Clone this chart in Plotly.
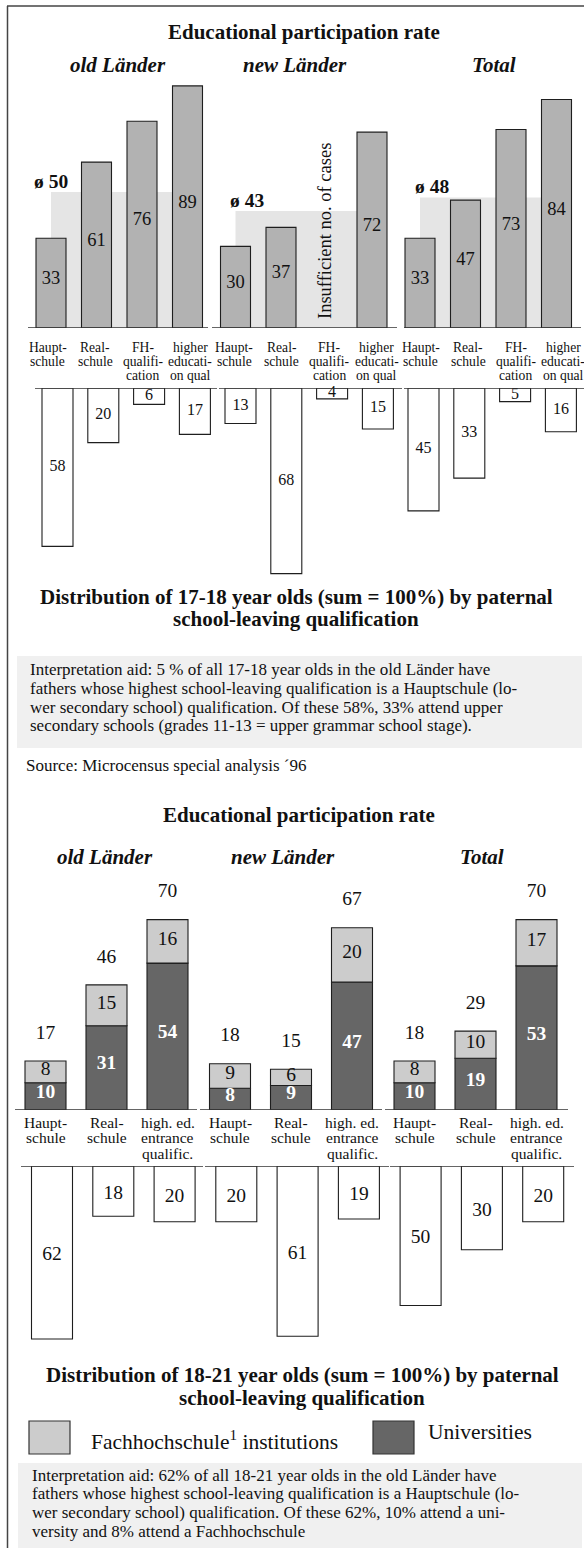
import plotly.graph_objects as go

W, H = 584, 1548
SERIF = "Liberation Serif, Times New Roman, Times, serif"

# ---------------- data: 17-18 year olds ----------------
regions = ["old Länder", "new Länder", "Total"]
quals1 = ["Haupt-|schule", "Real-|schule", "FH-|qualifi-|cation", "higher|educati-|on qual"]
rate1_old = [33, 61, 76, 89]
rate1_new = [30, 37, None, 72]
rate1_total = [33, 47, 73, 84]
mean1 = [50, 43, 48]
dist1_old = [58, 20, 6, 17]
dist1_new = [13, 68, 4, 15]
dist1_total = [45, 33, 5, 16]
note1 = "Insufficient no. of cases"

# ---------------- data: 18-21 year olds ----------------
quals2 = ["Haupt-|schule", "Real-|schule", "high. ed.|entrance|qualific."]
uni2_old = [10, 31, 54]
uni2_new = [8, 9, 47]
uni2_total = [10, 19, 53]
fh2_old = [8, 15, 16]
fh2_new = [9, 6, 20]
fh2_total = [8, 10, 17]
tot2_old = [17, 46, 70]
tot2_new = [18, 15, 67]
tot2_total = [18, 29, 70]
dist2_old = [62, 18, 20]
dist2_new = [20, 61, 19]
dist2_total = [50, 30, 20]

legend_names = ["Fachhochschule<sup>1</sup> institutions", "Universities"]

title1 = "Educational participation rate"
dtitle1 = ["Distribution of 17-18 year olds (sum = 100%) by paternal", "school-leaving qualification"]
dtitle2 = ["Distribution of 18-21 year olds (sum = 100%) by paternal", "school-leaving qualification"]
interp1 = [
    "Interpretation aid: 5 % of all 17-18 year olds in the old Länder have",
    "fathers whose highest school-leaving qualification is a Hauptschule (lo-",
    "wer secondary school) qualification. Of these 58%, 33% attend upper",
    "secondary schools (grades 11-13 = upper grammar school stage).",
]
source = "Source: Microcensus special analysis ´96"
interp2 = [
    "Interpretation aid: 62% of all 18-21 year olds in the old Länder have",
    "fathers whose highest school-leaving qualification is a Hauptschule (lo-",
    "wer secondary school) qualification. Of these 62%, 10% attend a uni-",
    "versity and 8% attend a Fachhochschule",
]

rate1 = [rate1_old, rate1_new, rate1_total]
dist1 = [dist1_old, dist1_new, dist1_total]
uni2 = [uni2_old, uni2_new, uni2_total]
fh2 = [fh2_old, fh2_new, fh2_total]
tot2 = [tot2_old, tot2_new, tot2_total]
dist2 = [dist2_old, dist2_new, dist2_total]

# ---------------- layout geometry (pixels) ----------------
def xpos(g, c, x0, gstep, cstep):
    return x0 + g * gstep + c * cstep

XU1 = (51, 184.5, 45.5)
XD1 = (57.5, 183, 45.8)
XL1 = (47.5, 186.5, 47.5)
XU2 = (45.5, 184.5, 61)
XD2 = (52, 184.3, 61.3)

def py(p):
    return 1 - p / H

def px(p):
    return p / W

SC_U1, SC_D1, SC_U2, SC_D2 = 2.72, 2.73, 2.72, 2.79
BASE_U1, BASE_D1, BASE_U2, BASE_D2 = 328, 388, 1110, 1166

fig = go.Figure()

def bar(x, y, yaxis, width, color, base=None, lw=1.1):
    fig.add_trace(go.Bar(
        x=x, y=y, base=base, width=width, yaxis=yaxis, xaxis="x",
        marker=dict(color=color, line=dict(color="#1e1e1e", width=lw)),
        hoverinfo="skip", showlegend=False))

def txt(x, y, t, yaxis, size, color="#111", bold=False):
    fig.add_trace(go.Scatter(
        x=x, y=y, text=[("<b>%s</b>" % s) if bold else s for s in t], mode="text",
        yaxis=yaxis, xaxis="x", textposition="middle center", cliponaxis=False,
        textfont=dict(family=SERIF, size=size, color=color),
        hoverinfo="skip", showlegend=False))

# ---- chart 1: mean background rectangles
mx, mw = [], []
for g in range(3):
    a = xpos(g, 0, *XU1)
    b = xpos(g, 3, *XU1)
    mx.append((a + b) / 2)
    mw.append(b - a)
bar(mx, mean1, "y", mw, "#e5e5e5", lw=0)

# ---- chart 1: participation bars
bx, by = [], []
for g in range(3):
    for c, v in enumerate(rate1[g]):
        if v is not None:
            bx.append(xpos(g, c, *XU1))
            by.append(v)
bar(bx, by, "y", 30, "#b2b2b2")
txt(bx, [v / 2 + 1.4 for v in by], [str(v) for v in by], "y", 18.5)

# ---- chart 1: distribution bars (downwards)
dx, dy = [], []
for g in range(3):
    for c, v in enumerate(dist1[g]):
        dx.append(xpos(g, c, *XD1))
        dy.append(v)
bar(dx, dy, "y2", 31, "#ffffff")
txt(dx, [v / 2 for v in dy], [str(v) for v in dy], "y2", 16)

# ---- chart 2: stacked bars
sx, su, sf, st = [], [], [], []
for g in range(3):
    for c in range(3):
        sx.append(xpos(g, c, *XU2))
        su.append(uni2[g][c])
        sf.append(fh2[g][c])
        st.append(tot2[g][c])
bar(sx, su, "y3", 41, "#666666")
bar(sx, sf, "y3", 41, "#cccccc", base=su)
txt(sx, [u / 2 + 1.2 for u in su], [str(u) for u in su], "y3", 19.5, color="#ffffff", bold=True)
txt(sx, [u + f / 2 + 0.6 for u, f in zip(su, sf)], [str(f) for f in sf], "y3", 19.5)
txt(sx, [u + f + 10 for u, f in zip(su, sf)], [str(t) for t in st], "y3", 19.5)

# ---- chart 2: distribution bars
ex, ey = [], []
for g in range(3):
    for c, v in enumerate(dist2[g]):
        ex.append(xpos(g, c, *XD2))
        ey.append(v)
bar(ex, ey, "y4", 41, "#ffffff")
txt(ex, [v / 2 + 1 for v in ey], [str(v) for v in ey], "y4", 19.5)

# ---------------- annotations ----------------
ann = []

def A(text, x, y, size, anchor="center", bold=False, italic=False, angle=0, color="#111"):
    if italic:
        text = "<i>%s</i>" % text
    if bold:
        text = "<b>%s</b>" % text
    ann.append(dict(text=text, x=px(x), y=py(y), xref="paper", yref="paper",
                    xanchor=anchor, yanchor="middle", showarrow=False, textangle=angle,
                    font=dict(family=SERIF, size=size, color=color)))

# chart 1 titles
A(title1, 304, 32, 21, bold=True)
for g, cx in enumerate([118, 295, 494]):
    A(regions[g], cx, 65, 21, bold=True, italic=True)
# mean labels
moff = [-19, -8, -7]
for g in range(3):
    ann.append(dict(text="<b>ø %d</b>" % mean1[g], x=mx[g] - mw[g] / 2 + moff[g], y=mean1[g],
                    xref="x", yref="y", xanchor="left", yanchor="middle", yshift=11,
                    showarrow=False, font=dict(family=SERIF, size=19.5, color="#111")))
# insufficient cases note
A(note1, 325, 231, 18.5, angle=-90)
# category labels chart 1
for g in range(3):
    for c, lab in enumerate(quals1):
        for k, line in enumerate(lab.split("|")):
            A(line, xpos(g, c, *XL1), 348 + k * 13.6, 13.6)
# distribution title 1
A(dtitle1[0], 296, 597, 21, bold=True)
A(dtitle1[1], 296, 619, 21, bold=True)
for k, line in enumerate(interp1):
    A(line, 28, 669 + k * 19, 17, anchor="left")
A(source, 24, 765, 17, anchor="left")

# chart 2 titles
A(title1, 299, 815, 21, bold=True)
for g, cx in enumerate([105, 283, 482]):
    A(regions[g], cx, 857, 21, bold=True, italic=True)
for g in range(3):
    for c, lab in enumerate(quals2):
        for k, line in enumerate(lab.split("|")):
            A(line, xpos(g, c, *XU2), 1122 + k * 15.5, 15.5)
A(dtitle2[0], 302, 1375, 21, bold=True)
A(dtitle2[1], 302, 1398, 21, bold=True)
A(legend_names[0], 89, 1440, 21.5, anchor="left")
A(legend_names[1], 426, 1432, 21.5, anchor="left")
for k, line in enumerate(interp2):
    A(line, 30, 1475 + k * 18.7, 17, anchor="left")

# ---------------- shapes ----------------
shapes = []

def rect(x0, y0, x1, y1, fill, lw=0, lc="#222"):
    shapes.append(dict(type="rect", xref="paper", yref="paper", x0=px(x0), x1=px(x1),
                       y0=py(y0), y1=py(y1), fillcolor=fill, layer="below",
                       line=dict(width=lw, color=lc)))

def hline(x0, x1, yv, yref, lw=1.3, color="#333"):
    shapes.append(dict(type="line", xref="x", yref=yref, x0=x0, x1=x1, y0=yv, y1=yv,
                       line=dict(width=lw, color=color), layer="above"))

rect(17, 656, 582, 748, "#f0f0f0")
rect(18, 1463, 582, 1548, "#f0f0f0")
# legend swatches
shapes.append(dict(type="rect", xref="paper", yref="paper", x0=px(29), x1=px(70), y0=py(1421), y1=py(1454),
                   fillcolor="#cccccc", line=dict(width=1.2, color="#333")))
shapes.append(dict(type="rect", xref="paper", yref="paper", x0=px(373), x1=px(414), y0=py(1421), y1=py(1454),
                   fillcolor="#666666", line=dict(width=1.2, color="#333")))
# frame
shapes.append(dict(type="line", xref="paper", yref="paper", x0=px(7.5), x1=px(7.5), y0=py(6), y1=0,
                   line=dict(width=1.5, color="#444")))
shapes.append(dict(type="line", xref="paper", yref="paper", x0=px(7), x1=1, y0=py(6), y1=py(6),
                   line=dict(width=1.5, color="#444")))
# baselines
for a, b in [(28, 208), (212, 397), (404, 581)]:
    hline(a, b, 0, "y")
for a, b in [(35, 217), (219, 402), (404, 584)]:
    hline(a, b, 0, "y2")
for a, b in [(15, 197), (200, 382), (385, 568)]:
    hline(a, b, 0, "y3")
for a, b in [(21, 203), (205, 389), (390, 574)]:
    hline(a, b, 0, "y4")

ax = dict(visible=False, fixedrange=True)
fig.update_layout(
    width=W, height=H, margin=dict(l=0, r=0, t=0, b=0),
    paper_bgcolor="white", plot_bgcolor="rgba(0,0,0,0)",
    barmode="overlay", showlegend=False,
    xaxis=dict(range=[0, W], domain=[0, 1], **ax),
    yaxis=dict(domain=[py(BASE_U1), py(80)], range=[0, (BASE_U1 - 80) / SC_U1], anchor="x", **ax),
    yaxis2=dict(domain=[py(BASE_D1 + 210), py(BASE_D1)], range=[210 / SC_D1, 0], anchor="x", **ax),
    yaxis3=dict(domain=[py(BASE_U2), py(870)], range=[0, (BASE_U2 - 870) / SC_U2], anchor="x", **ax),
    yaxis4=dict(domain=[py(BASE_D2 + 210), py(BASE_D2)], range=[210 / SC_D2, 0], anchor="x", **ax),
    annotations=ann, shapes=shapes,
)
fig.write_html("out.html", config={"displayModeBar": False},
               post_script="document.body.style.margin='0';document.body.style.overflow='hidden';")
